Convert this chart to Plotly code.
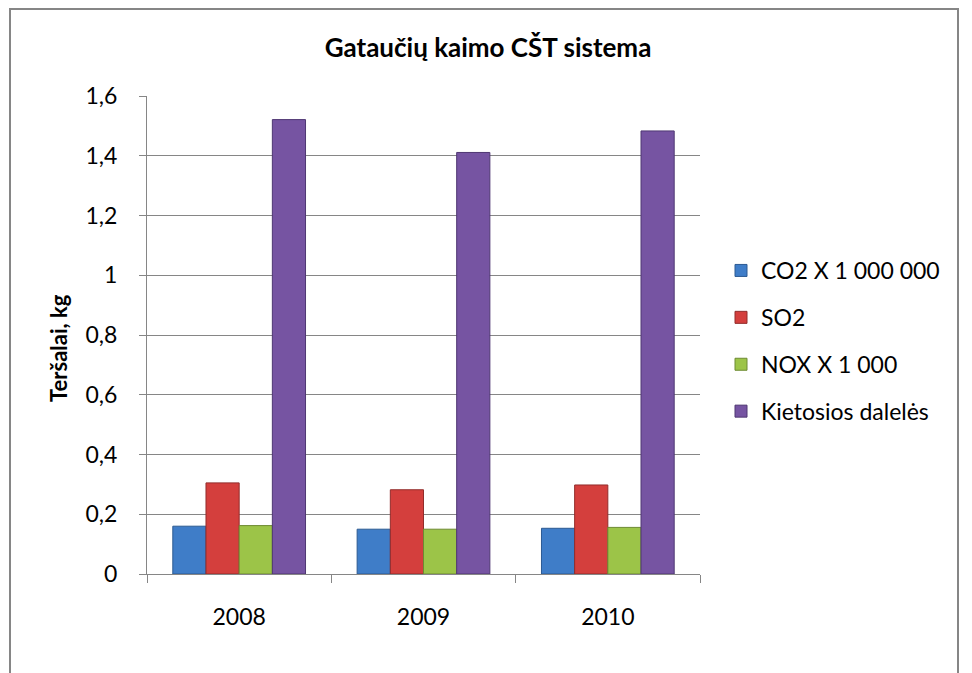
import plotly.graph_objects as go

# Duomenys nuskaityti nuo paveikslo
years = ["2008", "2009", "2010"]
co2_x1e6 = [0.16, 0.15, 0.153]
so2 = [0.305, 0.282, 0.298]
nox_x1e3 = [0.162, 0.15, 0.156]
kietosios = [1.521, 1.411, 1.483]

series_names = ["CO2 X 1 000 000", "SO2", "NOX X 1 000", "Kietosios dalelės"]
series_values = [co2_x1e6, so2, nox_x1e3, kietosios]
fill_colors = ["#3f7dc8", "#d43f3d", "#9cc448", "#7654a2"]
edge_colors = ["#2c5a92", "#922c2b", "#6d8a32", "#4f3772"]

FONT = "Lato, Noto Sans, sans-serif"
GRID = "#868686"

# puslapio body turi 8px paraštę, todėl figūra pasislenka
OFF = 8
W, H = 964, 665
L, R, T, B = 139, 272, 88, 99
pw, ph = W - L - R, H - T - B


def px_x(x):
    return (x - OFF - L) / pw


def px_y(y):
    return (H - B - (y - OFF)) / ph


fig = go.Figure()
for name, vals, fc, ec in zip(series_names, series_values, fill_colors, edge_colors):
    fig.add_trace(
        go.Bar(
            x=years,
            y=vals,
            name=name,
            legendgroup=name,
            marker=dict(color=fc, line=dict(color=ec, width=1)),
        )
    )

fig.update_layout(
    width=W,
    height=H,
    margin=dict(l=L, r=R, t=T, b=B),
    paper_bgcolor="white",
    plot_bgcolor="white",
    separators=", ",
    barmode="group",
    bargap=0.28,
    bargroupgap=0,
    font=dict(family=FONT, size=23, color="black"),
    title=dict(
        text="<b>Gataučių kaimo CŠT sistema</b>",
        x=(488 - OFF) / W,
        xref="container",
        xanchor="center",
        y=1 - (48 - OFF) / H,
        yref="container",
        yanchor="middle",
        font=dict(family=FONT, size=26, color="black"),
    ),
    legend=dict(
        x=px_x(721),
        xanchor="left",
        y=px_y(341),
        yanchor="middle",
        traceorder="grouped",
        tracegroupgap=14,
        font=dict(family=FONT, size=23),
        itemwidth=30,
    ),
    xaxis=dict(
        showgrid=False,
        showline=True,
        linecolor=GRID,
        linewidth=1,
        ticks="outside",
        tickson="boundaries",
        ticklen=8,
        tickcolor=GRID,
        ticklabelstandoff=22,
    ),
    yaxis=dict(
        range=[0, 1.6],
        dtick=0.2,
        showgrid=True,
        gridcolor=GRID,
        gridwidth=1,
        showline=True,
        linecolor=GRID,
        linewidth=1,
        ticks="outside",
        ticklen=7,
        tickcolor=GRID,
        ticklabelstandoff=17,
        zeroline=False,
    ),
    annotations=[
        dict(
            text="<b>Teršalai, kg</b>",
            x=px_x(58),
            y=px_y(348),
            xref="paper",
            yref="paper",
            xanchor="center",
            yanchor="middle",
            textangle=-90,
            showarrow=False,
            font=dict(family=FONT, size=22, color="black"),
        )
    ],
    shapes=[
        dict(
            type="rect",
            xref="paper",
            yref="paper",
            x0=px_x(10),
            x1=px_x(958),
            y0=px_y(700),
            y1=px_y(9),
            line=dict(color=GRID, width=2),
            layer="below",
        )
    ],
)

fig.write_html("out.html")
